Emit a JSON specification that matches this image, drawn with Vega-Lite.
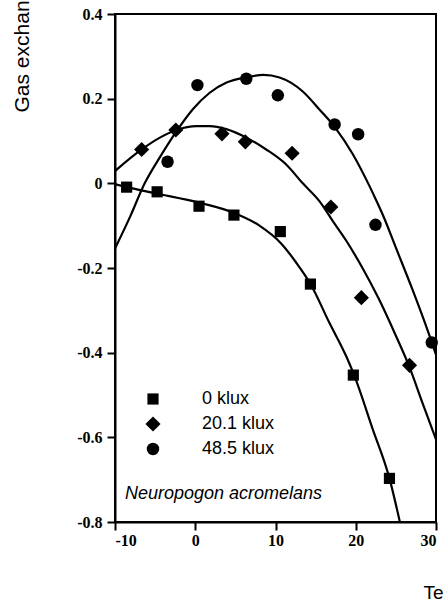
{
  "$schema": "https://vega.github.io/schema/vega-lite/v6.json",
  "width": 321,
  "height": 508,
  "autosize": {"type": "none"},
  "padding": {"left": 115, "top": 14, "right": 8, "bottom": 85},
  "background": "white",
  "datasets": {
    "obs": [
      {"series": "0 klux", "temp": -8.55, "gas": -0.009},
      {"series": "0 klux", "temp": -4.75, "gas": -0.02},
      {"series": "0 klux", "temp": 0.47, "gas": -0.054},
      {"series": "0 klux", "temp": 4.82, "gas": -0.075},
      {"series": "0 klux", "temp": 10.6, "gas": -0.114},
      {"series": "0 klux", "temp": 14.35, "gas": -0.238},
      {"series": "0 klux", "temp": 19.7, "gas": -0.453},
      {"series": "0 klux", "temp": 24.2, "gas": -0.697},
      {"series": "20.1 klux", "temp": -6.68, "gas": 0.08},
      {"series": "20.1 klux", "temp": -2.42, "gas": 0.126},
      {"series": "20.1 klux", "temp": 3.33, "gas": 0.117},
      {"series": "20.1 klux", "temp": 6.24, "gas": 0.098},
      {"series": "20.1 klux", "temp": 12.07, "gas": 0.071},
      {"series": "20.1 klux", "temp": 16.9, "gas": -0.056},
      {"series": "20.1 klux", "temp": 20.7, "gas": -0.27},
      {"series": "20.1 klux", "temp": 26.7, "gas": -0.43},
      {"series": "48.5 klux", "temp": -3.45, "gas": 0.051},
      {"series": "48.5 klux", "temp": 0.27, "gas": 0.232},
      {"series": "48.5 klux", "temp": 6.36, "gas": 0.247},
      {"series": "48.5 klux", "temp": 10.29, "gas": 0.208},
      {"series": "48.5 klux", "temp": 17.37, "gas": 0.139},
      {"series": "48.5 klux", "temp": 20.3, "gas": 0.116},
      {"series": "48.5 klux", "temp": 22.46, "gas": -0.098},
      {"series": "48.5 klux", "temp": 29.47, "gas": -0.376}
    ],
    "curves": [
      {"series": "0 klux", "temp": -10, "gas": -0.002},
      {"series": "0 klux", "temp": -8.55, "gas": -0.009},
      {"series": "0 klux", "temp": -4.83, "gas": -0.024},
      {"series": "0 klux", "temp": 0.56, "gas": -0.046},
      {"series": "0 klux", "temp": 4.7, "gas": -0.069},
      {"series": "0 klux", "temp": 8.0, "gas": -0.1},
      {"series": "0 klux", "temp": 10.7, "gas": -0.142},
      {"series": "0 klux", "temp": 12.57, "gas": -0.187},
      {"series": "0 klux", "temp": 14.43, "gas": -0.24},
      {"series": "0 klux", "temp": 16.7, "gas": -0.329},
      {"series": "0 klux", "temp": 18.8, "gas": -0.408},
      {"series": "0 klux", "temp": 19.8, "gas": -0.453},
      {"series": "0 klux", "temp": 22.1, "gas": -0.58},
      {"series": "0 klux", "temp": 24.2, "gas": -0.697},
      {"series": "0 klux", "temp": 25.5, "gas": -0.8},
      {"series": "20.1 klux", "temp": -10, "gas": 0.029},
      {"series": "20.1 klux", "temp": -6.68, "gas": 0.08},
      {"series": "20.1 klux", "temp": -4.41, "gas": 0.108},
      {"series": "20.1 klux", "temp": -2.34, "gas": 0.126},
      {"series": "20.1 klux", "temp": 0.15, "gas": 0.135},
      {"series": "20.1 klux", "temp": 1.8, "gas": 0.135},
      {"series": "20.1 klux", "temp": 3.87, "gas": 0.128},
      {"series": "20.1 klux", "temp": 6.36, "gas": 0.108},
      {"series": "20.1 klux", "temp": 8.84, "gas": 0.08},
      {"series": "20.1 klux", "temp": 11.3, "gas": 0.045},
      {"series": "20.1 klux", "temp": 13.4, "gas": 0.0},
      {"series": "20.1 klux", "temp": 15.47, "gas": -0.042},
      {"series": "20.1 klux", "temp": 17.1, "gas": -0.088},
      {"series": "20.1 klux", "temp": 18.8, "gas": -0.135},
      {"series": "20.1 klux", "temp": 20.84, "gas": -0.2},
      {"series": "20.1 klux", "temp": 22.9, "gas": -0.274},
      {"series": "20.1 klux", "temp": 25.0, "gas": -0.36},
      {"series": "20.1 klux", "temp": 26.65, "gas": -0.432},
      {"series": "20.1 klux", "temp": 28.3, "gas": -0.518},
      {"series": "20.1 klux", "temp": 30, "gas": -0.605},
      {"series": "48.5 klux", "temp": -10, "gas": -0.154},
      {"series": "48.5 klux", "temp": -8.1, "gas": -0.078},
      {"series": "48.5 klux", "temp": -6.3, "gas": 0.0},
      {"series": "48.5 klux", "temp": -4.4, "gas": 0.062},
      {"series": "48.5 klux", "temp": -2.3, "gas": 0.124},
      {"series": "48.5 klux", "temp": -0.3, "gas": 0.175},
      {"series": "48.5 klux", "temp": 1.8, "gas": 0.214},
      {"series": "48.5 klux", "temp": 3.9, "gas": 0.238},
      {"series": "48.5 klux", "temp": 6.4, "gas": 0.251},
      {"series": "48.5 klux", "temp": 8.5, "gas": 0.256},
      {"series": "48.5 klux", "temp": 10.5, "gas": 0.25},
      {"series": "48.5 klux", "temp": 13.4, "gas": 0.217},
      {"series": "48.5 klux", "temp": 15.5, "gas": 0.174},
      {"series": "48.5 klux", "temp": 17.5, "gas": 0.13},
      {"series": "48.5 klux", "temp": 19.6, "gas": 0.07},
      {"series": "48.5 klux", "temp": 21.7, "gas": -0.006},
      {"series": "48.5 klux", "temp": 22.5, "gas": -0.038},
      {"series": "48.5 klux", "temp": 23.5, "gas": -0.08},
      {"series": "48.5 klux", "temp": 25.0, "gas": -0.152},
      {"series": "48.5 klux", "temp": 27.05, "gas": -0.25},
      {"series": "48.5 klux", "temp": 29.1, "gas": -0.355},
      {"series": "48.5 klux", "temp": 30, "gas": -0.405}
    ],
    "caption": [
      {"label": "Neuropogon acromelans", "temp": -8.76, "gas": -0.746}
    ]
  },
  "layer": [
    {
      "mark": {"type": "rule", "color": "black", "strokeWidth": 1.6},
      "encoding": {"y": {"datum": 0, "type": "quantitative"}}
    },
    {
      "data": {"name": "curves"},
      "mark": {"type": "line", "color": "black", "strokeWidth": 2.2, "interpolate": "monotone", "clip": true},
      "encoding": {
        "x": {"field": "temp", "type": "quantitative"},
        "y": {"field": "gas", "type": "quantitative"},
        "detail": {"field": "series"}
      }
    },
    {
      "data": {"name": "obs"},
      "mark": {"type": "point", "filled": true, "color": "black", "opacity": 1},
      "encoding": {
        "x": {"field": "temp", "type": "quantitative"},
        "y": {"field": "gas", "type": "quantitative"},
        "shape": {
          "field": "series",
          "type": "nominal",
          "scale": {"domain": ["0 klux", "20.1 klux", "48.5 klux"], "range": ["square", "diamond", "circle"]},
          "legend": {
            "title": null,
            "orient": "none",
            "legendX": 29,
            "legendY": 376,
            "padding": 0,
            "rowPadding": 7,
            "labelOffset": 40,
            "symbolFillColor": "black",
            "symbolStrokeColor": "black",
            "symbolStrokeWidth": 0,
            "labelFont": "Liberation Sans",
            "labelFontSize": 18,
            "labelColor": "black"
          }
        },
        "size": {
          "field": "series",
          "type": "nominal",
          "scale": {"type": "ordinal", "domain": ["0 klux", "20.1 klux", "48.5 klux"], "range": [125, 230, 155]},
          "legend": {
            "title": null,
            "orient": "none",
            "legendX": 29,
            "legendY": 376,
            "padding": 0,
            "rowPadding": 7,
            "labelOffset": 40,
            "symbolFillColor": "black",
            "symbolStrokeColor": "black",
            "symbolStrokeWidth": 0,
            "labelFont": "Liberation Sans",
            "labelFontSize": 18,
            "labelColor": "black"
          }
        }
      }
    },
    {
      "data": {"name": "caption"},
      "mark": {"type": "text", "font": "Liberation Sans", "fontStyle": "italic", "fontSize": 18, "align": "left", "baseline": "alphabetic", "color": "black"},
      "encoding": {
        "x": {"field": "temp", "type": "quantitative"},
        "y": {"field": "gas", "type": "quantitative"},
        "text": {"field": "label"}
      }
    }
  ],
  "encoding": {
    "x": {
      "type": "quantitative",
      "scale": {"domain": [-10, 30], "nice": false, "zero": false},
      "axis": {
        "title": "Temperature (°C)",
        "values": [-10, 0, 10, 20, 30],
        "labelExpr": "datum.value < 0 ? '-' + format(-datum.value, 'd') : format(datum.value, 'd')",
        "titleX": 308,
        "titleY": 76,
        "titleAlign": "left",
        "titleBaseline": "alphabetic",
        "labelPadding": 2
      }
    },
    "y": {
      "type": "quantitative",
      "scale": {"domain": [-0.8, 0.4], "nice": false, "zero": false},
      "axis": {
        "title": "Gas exchange",
        "values": [-0.8, -0.6, -0.4, -0.2, 0, 0.2, 0.4],
        "labelExpr": "datum.value == 0 ? '0' : (datum.value < 0 ? '-' + format(-datum.value, '.1f') : format(datum.value, '.1f'))",
        "titleX": -87,
        "titleY": 98,
        "titleAngle": 270,
        "titleAlign": "left",
        "titleBaseline": "alphabetic",
        "titleFontSize": 21,
        "labelPadding": 5
      }
    }
  },
  "config": {
    "view": {"stroke": "black", "strokeWidth": 2},
    "axis": {
      "grid": false,
      "domainColor": "black",
      "domainWidth": 2,
      "tickColor": "black",
      "tickWidth": 2,
      "tickSize": 8,
      "labelFont": "Liberation Serif",
      "labelFontWeight": "bold",
      "labelFontSize": 16,
      "labelColor": "black",
      "titleFont": "Liberation Sans",
      "titleFontWeight": "normal",
      "titleFontSize": 19,
      "titleColor": "black"
    }
  }
}
